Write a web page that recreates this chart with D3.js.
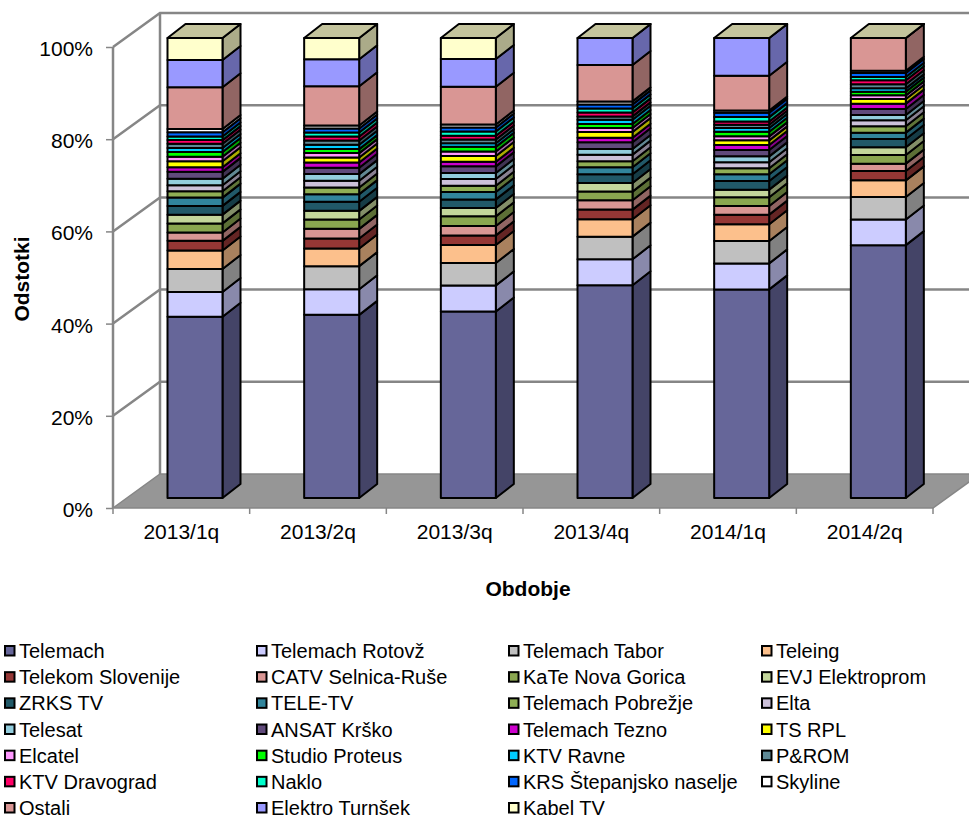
<!DOCTYPE html>
<html lang="en">
<head>
    <meta charset="UTF-8">
    <title>Odstotki po obdobjih</title>
    <script src="https://d3js.org/d3.v7.min.js"></script>
    <style>
        body { margin: 0; background: #fff; }
        text { font-family: "Liberation Sans", Arial, sans-serif; fill: #000; }
    </style>
</head>
<body>
    <div id="chart"></div>
    <script>
    const periods = ["2013/1q", "2013/2q", "2013/3q", "2013/4q", "2014/1q", "2014/2q"];
    const yTicks = [0, 0.2, 0.4, 0.6, 0.8, 1];

    // percent per period
    const telemach = [39.4, 39.8, 40.5, 46.2, 45.3, 54.9];
    const rotovz = [5.4, 5.58, 5.65, 5.65, 5.65, 5.58];
    const tabor = [5.0, 5.0, 4.86, 4.93, 4.86, 4.86];
    const teleing = [4.0, 3.84, 3.9, 3.77, 3.63, 3.63];
    const telekom = [2.1, 2.17, 2.1, 2.1, 2.1, 2.03];
    const catv = [1.8, 2.1, 2.03, 2.03, 1.88, 1.6];
    const kate = [2.0, 2.03, 2.1, 1.88, 1.88, 1.88];
    const evj = [1.9, 1.88, 1.8, 1.88, 1.67, 1.67];
    const zrks = [1.9, 1.96, 1.88, 1.88, 1.88, 1.8];
    const teleTv = [1.8, 1.67, 1.6, 1.52, 1.45, 1.38];
    const pobrezje = [1.4, 1.45, 1.38, 1.3, 1.3, 1.38];
    const elta = [1.3, 1.45, 1.45, 1.45, 1.3, 1.3];
    const telesat = [1.4, 1.45, 1.3, 1.23, 1.3, 1.16];
    const ansat = [1.5, 1.38, 1.45, 1.45, 1.38, 1.3];
    const tezno = [1.0, 1.16, 1.0, 1.0, 1.09, 1.16];
    const tsRpl = [1.3, 1.09, 1.23, 1.23, 1.0, 1.0];
    const elcatel = [1.0, 0.94, 1.0, 0.87, 0.87, 0.8];
    const proteus = [1.0, 0.87, 1.0, 0.87, 1.0, 0.8];
    const ravne = [0.9, 0.94, 0.8, 0.94, 0.8, 0.72];
    const prom = [0.9, 0.94, 0.8, 0.72, 0.72, 0.87];
    const dravograd = [0.8, 0.87, 0.8, 0.87, 0.72, 0.87];
    const naklo = [0.8, 0.87, 0.94, 0.87, 0.94, 0.72];
    const krs = [0.9, 0.87, 0.87, 0.87, 0.94, 0.87];
    const skyline = [0.7, 0.65, 0.65, 0.65, 0.5, 0.5];
    const ostali = [9.1, 8.5, 8.2, 7.9, 7.54, 7.1];
    const elektro = [5.9, 5.9, 6.0, 5.87, 8.2, 0];
    const kabel = [4.8, 4.6, 4.57, 0, 0, 0];

    const seriesNames = ["Telemach", "Telemach Rotovž", "Telemach Tabor", "Teleing",
        "Telekom Slovenije", "CATV Selnica-Ruše", "KaTe Nova Gorica", "EVJ Elektroprom",
        "ZRKS TV", "TELE-TV", "Telemach Pobrežje", "Elta",
        "Telesat", "ANSAT Krško", "Telemach Tezno", "TS RPL",
        "Elcatel", "Studio Proteus", "KTV Ravne", "P&ROM",
        "KTV Dravograd", "Naklo", "KRS Štepanjsko naselje", "Skyline",
        "Ostali", "Elektro Turnšek", "Kabel TV"];
    const seriesValues = [telemach, rotovz, tabor, teleing, telekom, catv, kate, evj,
        zrks, teleTv, pobrezje, elta, telesat, ansat, tezno, tsRpl, elcatel, proteus,
        ravne, prom, dravograd, naklo, krs, skyline, ostali, elektro, kabel];
    const seriesColors = ["#666699", "#CCCCFF", "#C0C0C0", "#FCC08C", "#953735", "#D99694",
        "#8AA650", "#C3D69B", "#215968", "#31859C", "#8FAF55", "#CCC1DA",
        "#93CDDD", "#604A7B", "#CC00CC", "#FFFF00", "#FF99FF", "#00FF00",
        "#00CCFF", "#5F8A96", "#FF0066", "#00FFCC", "#0066FF", "#FFFFFF",
        "#D99694", "#9999FF", "#FFFFCC"];

    const width = 969, height = 817;
    const wallDx = 47, wallDy = 34;   // floor depth of the 3d box
    const barDx = 18, barDy = 14;     // depth of a column
    const wallColor = "#868686";

    const svg = d3.select("#chart").append("svg")
        .attr("width", width)
        .attr("height", height)
        .style("display", "block");

    const x = d3.scaleBand().domain(periods).range([113, 933]);
    const y = d3.scaleLinear().domain([0, 1]).range([508, 47]);
    const yBar = d3.scaleLinear().domain([0, 1]).range([498, 38]);
    const barWidth = 55;
    const barX = d => x(d) + 54.5;

    const table = periods.map((p, i) => {
        const row = { period: p };
        seriesNames.forEach((s, j) => { row[s] = seriesValues[j][i]; });
        return row;
    });
    const stacked = d3.stack().keys(seriesNames).offset(d3.stackOffsetExpand)(table);

    const line = d3.line();
    const poly = pts => line(pts) + "Z";

    // floor
    svg.append("path")
        .attr("d", poly([[113, y(0)], [113 + wallDx, y(0) - wallDy], [933 + wallDx, y(0) - wallDy], [933, y(0)]]))
        .attr("fill", "#969696")
        .attr("stroke", wallColor)
        .attr("stroke-width", 1.5);

    // gridlines on side wall and back wall
    const grid = svg.append("g")
        .attr("fill", "none")
        .attr("stroke", wallColor)
        .attr("stroke-width", 2.5);
    yTicks.filter(t => t > 0).forEach(t => {
        grid.append("path").attr("d", line([[113, y(t)], [113 + wallDx, y(t) - wallDy], [933 + wallDx, y(t) - wallDy]]));
    });
    grid.append("path").attr("d", line([[113 + wallDx, y(0) - wallDy], [113 + wallDx, y(1) - wallDy]]));
    grid.append("path").attr("d", line([[113, y(0)], [113, y(1)]]));

    // columns, bottom segment first
    const bars = svg.append("g").attr("stroke", "#000").attr("stroke-width", 2).attr("stroke-linejoin", "round");
    periods.forEach((p, i) => {
        const x0 = barX(p), x1 = x0 + barWidth;
        stacked.forEach((layer, j) => {
            const color = d3.color(seriesColors[j]);
            const yLow = yBar(layer[i][0]), yHigh = yBar(layer[i][1]);
            const side = d3.rgb(color.r * 0.67, color.g * 0.67, color.b * 0.67);
            bars.append("path")
                .attr("d", poly([[x1, yLow], [x1 + barDx, yLow - barDy], [x1 + barDx, yHigh - barDy], [x1, yHigh]]))
                .attr("fill", side);
            bars.append("rect")
                .attr("x", x0).attr("y", yHigh)
                .attr("width", barWidth).attr("height", yLow - yHigh)
                .attr("fill", color);
        });
        // lid takes the colour of the last series, even where it is zero
        const c = d3.color(seriesColors[seriesColors.length - 1]);
        const yTop = yBar(1);
        bars.append("path")
            .attr("d", poly([[x0, yTop], [x0 + barDx, yTop - barDy], [x1 + barDx, yTop - barDy], [x1, yTop]]))
            .attr("fill", d3.rgb(c.r * 0.77, c.g * 0.77, c.b * 0.77));
    });

    // axes
    const yAxis = svg.append("g")
        .attr("transform", "translate(113,0)")
        .call(d3.axisLeft(y).tickValues(yTicks).tickFormat(d3.format(".0%")).tickSize(7).tickPadding(13));
    const xAxis = svg.append("g")
        .attr("transform", `translate(0,${y(0)})`)
        .call(d3.axisBottom(x).tickSize(0).tickPadding(16));
    xAxis.selectAll(".tick line").remove();
    periods.concat([null]).forEach((p, i) => {
        const tx = 113 + i * x.step();
        xAxis.append("line").attr("x1", tx).attr("x2", tx).attr("y1", 0).attr("y2", 6).attr("stroke", wallColor).attr("stroke-width", 1.5);
    });
    [yAxis, xAxis].forEach(a => {
        a.select(".domain").remove();
        a.selectAll("text").attr("font-size", 21).attr("font-family", "'Liberation Sans', Arial, sans-serif");
        a.selectAll(".tick line").attr("stroke", wallColor).attr("stroke-width", 1.5);
    });
    yAxis.selectAll(".tick text").attr("dy", "0.4em");

    // axis titles
    svg.append("text")
        .attr("transform", "translate(29,279) rotate(-90)")
        .attr("text-anchor", "middle")
        .attr("font-size", 21).attr("font-weight", "bold")
        .text("Odstotki");
    svg.append("text")
        .attr("x", 528).attr("y", 596)
        .attr("text-anchor", "middle")
        .attr("font-size", 21).attr("font-weight", "bold")
        .text("Obdobje");

    // legend, filled row by row
    const legendCols = [4, 256, 508, 761];
    const legendRow = d3.scaleLinear().domain([0, 6]).range([651, 808]);
    const legend = svg.append("g");
    seriesNames.forEach((name, i) => {
        const lx = legendCols[i % 4], ly = legendRow(Math.floor(i / 4));
        legend.append("rect")
            .attr("x", lx + 1).attr("y", ly - 5)
            .attr("width", 9.5).attr("height", 9.5)
            .attr("fill", seriesColors[i])
            .attr("stroke", "#000").attr("stroke-width", 2);
        legend.append("text")
            .attr("x", lx + 15).attr("y", ly + 7)
            .attr("font-size", 20)
            .text(name);
    });
    </script>
</body>
</html>
